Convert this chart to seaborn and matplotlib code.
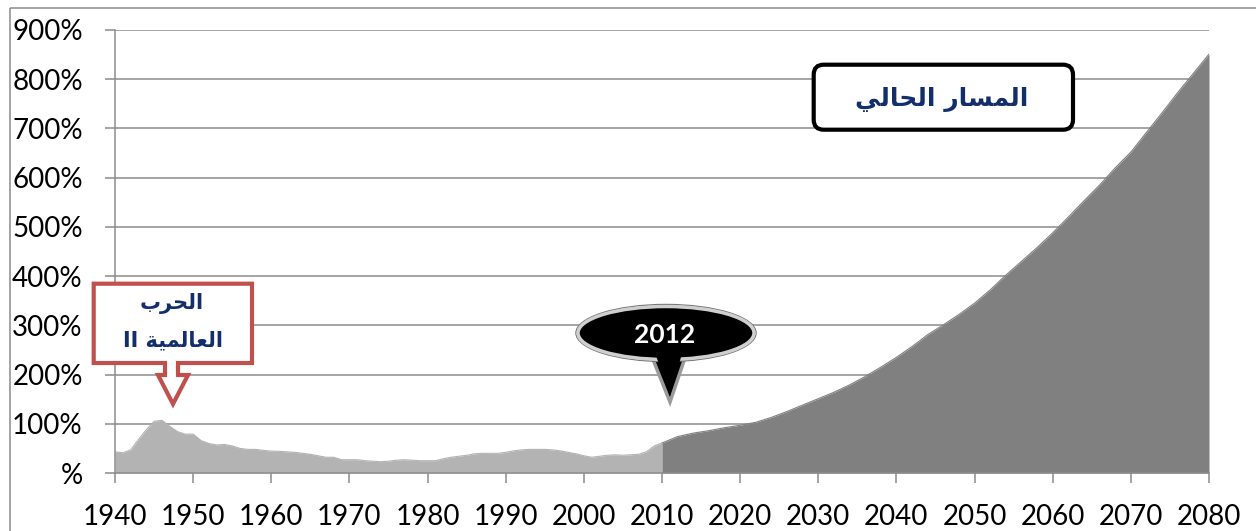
import numpy as np
import pandas as pd
import seaborn as sns
import matplotlib
matplotlib.use("Agg")
import matplotlib.pyplot as plt
from matplotlib.patches import Polygon, Ellipse, FancyBboxPatch, Rectangle
from matplotlib.transforms import Affine2D

# ---------------- data ----------------
hist_years = list(range(1940, 2011))
hist_values = [43, 41, 47, 68, 88, 105, 107, 95, 84, 79,
               79, 66, 60, 57, 58, 55, 50, 48, 48, 46,
               44.5, 44, 43, 42, 40, 38, 35, 32, 32, 27,
               27, 27, 25, 24, 23, 24, 26, 27, 26, 25,
               25, 25, 29, 32, 34, 36, 39, 40, 40, 40,
               42, 45, 47, 48, 48, 48, 47, 45, 42, 39,
               35, 32, 34, 36, 37, 36, 37, 38, 43, 55,
               61]
proj_years = list(range(2010, 2081, 2))
proj_values = [61, 74, 81, 86, 92, 97, 103, 113, 125, 138,
               151, 164, 179, 196, 215, 235, 257, 281, 301, 322,
               345, 372, 402, 430, 458, 488, 520, 553, 585, 620,
               652, 692, 732, 773, 812, 851]
x_ticks = list(range(1940, 2081, 10))
y_ticks = list(range(0, 901, 100))
y_tick_labels = ["%"] + [f"{v}%" for v in y_ticks[1:]]

label_ww2_line1 = "الحرب"
label_ww2_line2 = "العالمية II"
label_2012 = "2012"
label_path = "المسار الحالي"

# ---------------- simple Arabic shaping (presentation forms + RTL order) ----------------
FORMS = {
    'ا': ('\uFE8D', '\uFE8E', None, None),
    'ب': ('\uFE8F', '\uFE90', '\uFE91', '\uFE92'),
    'ة': ('\uFE93', '\uFE94', None, None),
    'ح': ('\uFEA1', '\uFEA2', '\uFEA3', '\uFEA4'),
    'ر': ('\uFEAD', '\uFEAE', None, None),
    'س': ('\uFEB1', '\uFEB2', '\uFEB3', '\uFEB4'),
    'ع': ('\uFEC9', '\uFECA', '\uFECB', '\uFECC'),
    'ل': ('\uFEDD', '\uFEDE', '\uFEDF', '\uFEE0'),
    'م': ('\uFEE1', '\uFEE2', '\uFEE3', '\uFEE4'),
    'ي': ('\uFEF1', '\uFEF2', '\uFEF3', '\uFEF4'),
}


def shape_word(w):
    out = []
    for i, c in enumerate(w):
        f = FORMS[c]
        prev = w[i - 1] if i > 0 else None
        nxt = w[i + 1] if i + 1 < len(w) else None
        jp = prev is not None and FORMS[prev][2] is not None
        jn = nxt is not None and f[2] is not None
        if jp and jn:
            g = f[3]
        elif jp:
            g = f[1]
        elif jn:
            g = f[2]
        else:
            g = f[0]
        out.append(g)
    return ''.join(reversed(out))


def shape(text):
    res = []
    for w in text.split(' '):
        if w and all(ch in FORMS for ch in w):
            res.append(shape_word(w))
        else:
            res.append(w)
    return ' '.join(reversed(res))


# ---------------- style ----------------
sns.set_theme(style="white")
plt.rcParams['font.family'] = ['Lato', 'DejaVu Sans']

LIGHT = "#b3b3b3"
DARK = "#808080"
GRID = "#8c8c8c"
NAVY = "#132f6b"
RED = "#c0504d"

fig = plt.figure(figsize=(12.56, 5.31), dpi=100)
ax = fig.add_axes([115 / 1256, 58 / 531, 1094 / 1256, 443 / 531])

hist = pd.DataFrame({"year": hist_years, "value": hist_values})
proj = pd.DataFrame({"year": proj_years, "value": proj_values})

sns.lineplot(data=hist, x="year", y="value", color=LIGHT, lw=0.8, ax=ax, zorder=2)
sns.lineplot(data=proj, x="year", y="value", color=DARK, lw=0.8, ax=ax, zorder=2)
ax.fill_between(hist["year"], 0, hist["value"], color=LIGHT, lw=0, zorder=2)
ax.fill_between(proj["year"], 0, proj["value"], color=DARK, lw=0, zorder=2)

ax.set_xlim(1940, 2080)
ax.set_ylim(0, 900)
ax.set_xticks(x_ticks)
ax.set_xticklabels([str(x) for x in x_ticks])
ax.set_yticks(y_ticks)
ax.set_yticklabels(y_tick_labels)
ax.set_xlabel("")
ax.set_ylabel("")
ax.set_axisbelow(True)
ax.grid(axis='y', color=GRID, lw=1.1)
ax.grid(axis='x', visible=False)
for s in ["top", "right"]:
    ax.spines[s].set_visible(False)
for s in ["left", "bottom"]:
    ax.spines[s].set_color(GRID)
    ax.spines[s].set_linewidth(1.1)
    ax.spines[s].set_zorder(3)
ax.tick_params(axis='both', which='major', left=True, bottom=True, length=7.2,
               width=1.1, color=GRID, labelcolor='black', labelsize=20)
ax.tick_params(axis='y', pad=16)
ax.tick_params(axis='x', pad=15)

# pixel coordinates (y down) transform for annotations
PX = Affine2D().scale(0.01, -0.01).translate(0, 5.31) + fig.dpi_scale_trans

# outer frame
fig.patches.append(Rectangle((10, 8), 1260, 540, transform=PX, fill=False,
                             edgecolor=GRID, lw=1.1, clip_on=False))

# WWII callout
ww2 = [(93.7, 283.7), (252, 283.7), (252, 363), (178, 363), (178, 375), (188, 375),
       (173, 404), (158, 375), (165, 375), (165, 363), (93.7, 363)]
ax.add_patch(Polygon(ww2, closed=True, transform=PX, facecolor='white', edgecolor=RED,
                     lw=3, joinstyle='miter', zorder=6, clip_on=False))
ax.text(171.7, 303, shape(label_ww2_line1), transform=PX, ha='center', va='center',
        color=NAVY, fontsize=15, fontweight='bold', family=['DejaVu Sans'], zorder=7)
ax.text(173, 340, shape(label_ww2_line2), transform=PX, ha='center', va='center',
        color=NAVY, fontsize=15, fontweight='bold', family=['DejaVu Sans'], zorder=7)

# 2012 callout
tail = [(650, 352), (687, 352), (670, 402)]
ax.add_patch(Polygon(tail, closed=True, transform=PX, facecolor='black', edgecolor='#9a9a9a',
                     lw=2.5, joinstyle='miter', zorder=6, clip_on=False))
ax.add_patch(Ellipse((666, 333), 180, 57, transform=PX, facecolor='none', edgecolor='#707070',
                     lw=1, zorder=6, clip_on=False))
ax.add_patch(Ellipse((666, 333), 176, 53, transform=PX, facecolor='black', edgecolor='#cfcfcf',
                     lw=2.5, zorder=6, clip_on=False))
ax.add_patch(Polygon([(654, 350), (683, 350), (670, 396)], closed=True, transform=PX,
                     facecolor='black', edgecolor='none', zorder=6, clip_on=False))
ax.text(665, 335, label_2012, transform=PX, ha='center', va='center', color='white',
        fontsize=19, fontweight='bold', zorder=7)

# current path box
ax.add_patch(FancyBboxPatch((813.7, 64.7), 259.3, 65, transform=PX,
                            boxstyle="round,pad=0,rounding_size=10",
                            facecolor='white', edgecolor='black', lw=3, zorder=6, clip_on=False))
ax.text(941.7, 99, shape(label_path), transform=PX, ha='center', va='center', color=NAVY,
        fontsize=18, fontweight='bold', family=['DejaVu Sans'], zorder=7)

fig.savefig("out.png", dpi=100)
